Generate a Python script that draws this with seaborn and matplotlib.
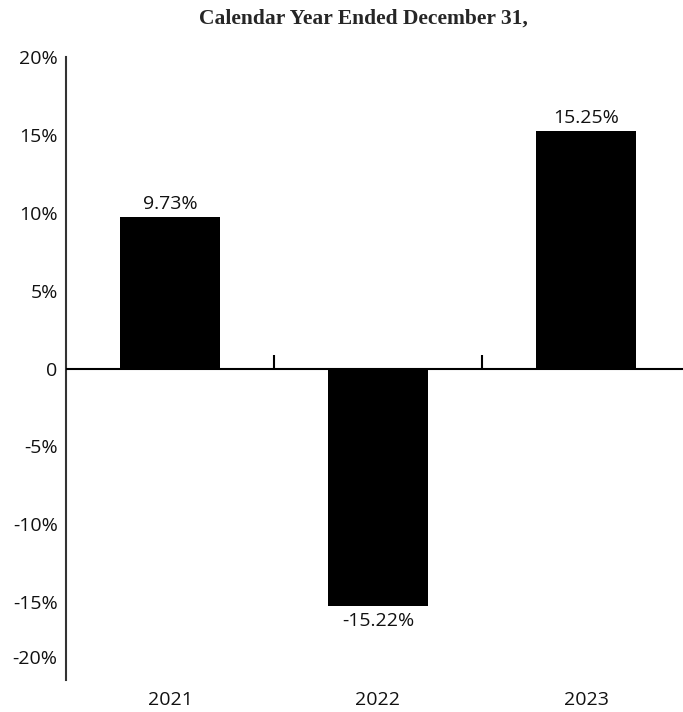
import numpy as np
import pandas as pd
import seaborn as sns
import matplotlib.pyplot as plt
from matplotlib.transforms import ScaledTranslation

years = ["2021", "2022", "2023"]
returns = [9.73, -15.22, 15.25]
labels = ["9.73%", "-15.22%", "15.25%"]
yticks = [20, 15, 10, 5, 0, -5, -10, -15, -20]
ytick_labels = ["20%", "15%", "10%", "5%", "0", "-5%", "-10%", "-15%", "-20%"]

sns.set_style("white")
plt.rcParams['font.family'] = ['Open Sans', 'DejaVu Sans']

df = pd.DataFrame({"year": years, "ret": returns})

fig = plt.figure(figsize=(6.83, 7.12), dpi=100)
ax = fig.add_axes([66/683, 1-680/712, 624/683, 623/712])

sns.barplot(data=df, x="year", y="ret", color="black", width=0.48,
            saturation=1, ax=ax, edgecolor="none")

ax.set_xlim(-0.5, 2.5)
ax.set_ylim(-20, 20)
ax.set_yticks(yticks)
ax.set_yticklabels(ytick_labels, fontsize=14, color="#111111")
ax.tick_params(axis="y", length=0, pad=6)
ax.tick_params(axis="x", length=0, pad=8, labelsize=14, labelcolor="#111111")
ax.set_xlabel("")
ax.set_ylabel("")

# the bottom "-20%" label sits a bit above the axis end
last = ax.get_yticklabels()[-1]
last.set_transform(last.get_transform() + ScaledTranslation(0, 23/100, fig.dpi_scale_trans))

for s in ["top", "right", "bottom"]:
    ax.spines[s].set_visible(False)
ax.spines["left"].set_color("#333333")
ax.spines["left"].set_linewidth(1.5)

# zero line with small category-boundary ticks
ax.axhline(0, color="black", lw=1.5, zorder=3)
for b in np.arange(len(years) - 1) + 0.5:
    ax.vlines(b, 0, 0.85, color="black", lw=1.5, zorder=3)

for i, (v, t) in enumerate(zip(returns, labels)):
    if v >= 0:
        ax.annotate(t, (i, v), xytext=(0, 3), textcoords="offset points",
                    ha="center", va="bottom", fontsize=14, color="#111111")
    else:
        ax.annotate(t, (i, v), xytext=(0, -5), textcoords="offset points",
                    ha="center", va="top", fontsize=14, color="#111111")

fig.text(363/683, 1-19/712, "Calendar Year Ended December 31,", ha="center", va="center",
         fontsize=15.5, fontweight="bold", family="Liberation Serif")

fig.savefig("out.png", dpi=100)
